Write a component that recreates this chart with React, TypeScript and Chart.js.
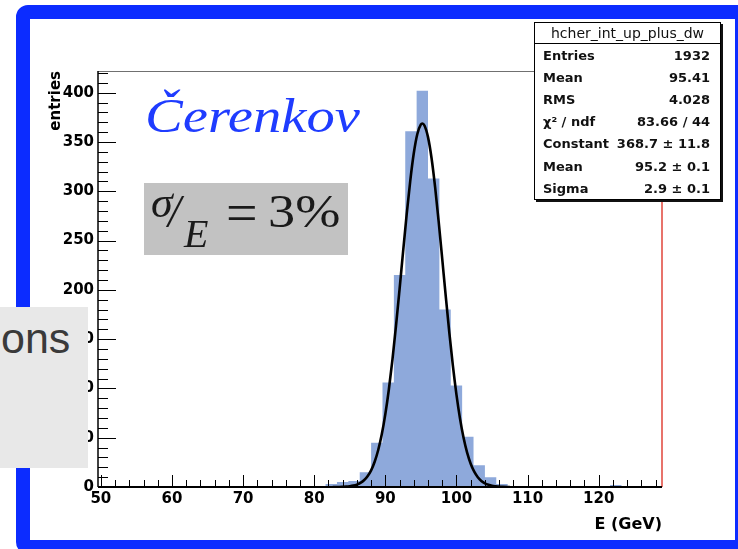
import { useEffect, useRef } from "react";
import { Chart, registerables } from "chart.js";

Chart.register(...registerables);

// ---- data ----
const binStart = 49.6;
const binWidth = 1.6;
const binCounts = [
  0, 0, 0, 0, 0, 0, 0, 0, 0, 0,
  0, 0, 0, 0, 0, 0, 0, 0, 0, 1,
  3, 5, 6, 15, 45, 106, 215, 361, 402, 313,
  180, 103, 51, 22, 10, 3, 1, 0, 1, 1,
  0, 1, 0, 1, 0, 2, 1, 0, 0, 0,
];

const fitE = [
  82.6, 83.5, 84, 84.5, 85, 85.5, 86, 86.5, 87, 87.5, 88, 88.5, 89, 89.5, 90, 90.5,
  91, 91.5, 92, 92.5, 93, 93.5, 94, 94.5, 95, 95.2, 95.5, 96, 96.5, 97, 97.5, 98,
  98.5, 99, 99.5, 100, 100.5, 101, 101.5, 102, 102.5, 103, 103.5, 104, 104.5, 105,
  105.5, 106, 106.5, 107.5,
];
const fitCounts = [
  0, 0.05, 0.2, 0.4, 0.8, 1.4, 2.4, 4.1, 6.8, 10.9, 16.9, 25.6, 37.5, 53.4, 73.9, 99.2,
  129.2, 163.4, 200.6, 239.0, 276.5, 310.4, 338.5, 358.1, 367.8, 368.7, 366.7, 354.9, 333.5, 304.1, 269.2, 231.4,
  193.0, 156.3, 122.8, 93.7, 69.4, 49.9, 34.8, 23.6, 15.5, 9.9, 6.1, 3.7, 2.2, 1.2,
  0.7, 0.4, 0.1, 0,
];

const xTickValues = [50, 60, 70, 80, 90, 100, 110, 120];
const yTickValues = [0, 50, 100, 150, 200, 250, 300, 350, 400];
const xMin = 49.6;
const xMax = 128.9;
const yMin = 0;
const yMax = 422;
const xTitle = "E (GeV)";
const yTitle = "entries";

const statsTitle = "hcher_int_up_plus_dw";
const statsLabels = ["Entries", "Mean", "RMS", "χ² / ndf", "Constant", "Mean", "Sigma"];
const statsValues = ["1932", "95.41", "4.028", "83.66 / 44", "368.7 ± 11.8", "95.2 ± 0.1", "2.9 ± 0.1"];

const labelFont = { family: "DejaVu Sans", weight: "bold" as const, size: 15 };

const rootAxesPlugin = {
  id: "rootAxes",
  afterDatasetsDraw(chart: any) {
    const { ctx, chartArea: a, scales } = chart;
    const x = scales.x;
    const y = scales.y;
    ctx.save();
    ctx.strokeStyle = "#000";
    ctx.lineWidth = 1;
    for (let v = 50; v <= 128; v += 2) {
      const px = Math.round(x.getPixelForValue(v)) + 0.5;
      const len = v % 10 === 0 ? 12 : 7;
      ctx.beginPath();
      ctx.moveTo(px, a.bottom);
      ctx.lineTo(px, a.bottom - len);
      ctx.stroke();
    }
    for (let v = 0; v <= 420; v += 10) {
      const py = Math.round(y.getPixelForValue(v)) + 0.5;
      const len = v % 50 === 0 ? 18 : 10;
      ctx.beginPath();
      ctx.moveTo(a.left, py);
      ctx.lineTo(a.left + len, py);
      ctx.stroke();
    }
    ctx.strokeStyle = "#707070";
    ctx.lineWidth = 1;
    ctx.beginPath();
    ctx.moveTo(a.left, a.top + 0.5);
    ctx.lineTo(a.right, a.top + 0.5);
    ctx.stroke();
    ctx.strokeStyle = "#e0453a";
    ctx.lineWidth = 1.5;
    ctx.beginPath();
    ctx.moveTo(a.right, a.top);
    ctx.lineTo(a.right, a.bottom);
    ctx.stroke();
    ctx.strokeStyle = "#000";
    ctx.lineWidth = 1.5;
    ctx.beginPath();
    ctx.moveTo(a.left, a.top);
    ctx.lineTo(a.left, a.bottom);
    ctx.stroke();
    ctx.lineWidth = 2;
    ctx.beginPath();
    ctx.moveTo(a.left, a.bottom);
    ctx.lineTo(a.right, a.bottom);
    ctx.stroke();
    ctx.restore();
  },
};

function HistChart() {
  const ref = useRef<HTMLCanvasElement | null>(null);
  useEffect(() => {
    if (!ref.current) return;
    const histPoints = binCounts.map((c, k) => ({ x: binStart + k * binWidth, y: c }));
    histPoints.push({ x: binStart + binCounts.length * binWidth, y: binCounts[binCounts.length - 1] });
    const fitPoints = fitE.map((e, i) => ({ x: e, y: fitCounts[i] }));

    const chart = new Chart(ref.current, {
      type: "line",
      data: {
        datasets: [
          {
            data: fitPoints,
            borderColor: "#000",
            borderWidth: 2.6,
            pointRadius: 0,
            fill: false,
            cubicInterpolationMode: "monotone",
            order: 0,
          },
          {
            data: histPoints,
            stepped: "before",
            fill: "origin",
            backgroundColor: "rgb(142,169,219)",
            borderColor: "rgba(0,0,0,0)",
            borderWidth: 0,
            pointRadius: 0,
            order: 1,
          },
        ],
      },
      options: {
        animation: false,
        responsive: false,
        devicePixelRatio: 1,
        layout: { padding: { left: 0, right: 76, top: 71, bottom: 0 } },
        plugins: { legend: { display: false }, tooltip: { enabled: false } },
        scales: {
          x: {
            type: "linear",
            position: "bottom",
            min: xMin,
            max: xMax,
            grid: { display: false, drawTicks: false },
            border: { display: false },
            afterBuildTicks: (s: any) => {
              s.ticks = xTickValues.map((v) => ({ value: v }));
            },
            afterFit: (s: any) => {
              s.height = 62;
            },
            ticks: { autoSkip: false, maxRotation: 0, minRotation: 0, padding: 3, color: "#000", font: labelFont },
            title: {
              display: true,
              text: xTitle,
              align: "end",
              color: "#000",
              font: { family: "DejaVu Sans", weight: "bold", size: 16 },
              padding: { top: 0, bottom: 15 },
            },
          },
          y: {
            type: "linear",
            position: "left",
            min: yMin,
            max: yMax,
            grid: { display: false, drawTicks: false },
            border: { display: false },
            afterBuildTicks: (s: any) => {
              s.ticks = yTickValues.map((v) => ({ value: v }));
            },
            afterFit: (s: any) => {
              s.width = 98;
            },
            ticks: { autoSkip: false, padding: 4, color: "#000", font: labelFont },
            title: {
              display: true,
              text: yTitle,
              align: "end",
              color: "#000",
              font: { family: "DejaVu Sans", weight: "bold", size: 15 },
              padding: { top: 47, bottom: 0 },
            },
          },
        },
      },
      plugins: [rootAxesPlugin],
    } as any);
    return () => chart.destroy();
  }, []);
  return (
    <canvas
      ref={ref}
      width={738}
      height={549}
      style={{ position: "absolute", left: 0, top: 0, width: 738, height: 549, zIndex: 2 }}
    />
  );
}

export default function App() {
  const serif = "'Liberation Serif', 'DejaVu Serif', serif";
  return (
    <div
      style={{
        position: "absolute",
        left: 0,
        top: 0,
        width: 738,
        height: 549,
        overflow: "hidden",
        background: "#fff",
      }}
    >
      <div
        style={{
          position: "absolute",
          left: 16,
          top: 5,
          width: 733,
          height: 549,
          boxSizing: "border-box",
          border: "14px solid rgb(12,44,255)",
          borderRadius: 12,
          background: "#fff",
          zIndex: 1,
        }}
      />
      <HistChart />

      <div
        style={{
          position: "absolute",
          left: 534,
          top: 22,
          width: 187,
          height: 178,
          boxSizing: "border-box",
          border: "1px solid #000",
          background: "#fff",
          boxShadow: "2px 2px 0 #111",
          zIndex: 3,
          fontFamily: "'DejaVu Sans', sans-serif",
          color: "#111",
        }}
      >
        <div
          style={{
            height: 20,
            borderBottom: "1px solid #000",
            textAlign: "center",
            fontSize: 14,
            lineHeight: "20px",
            whiteSpace: "nowrap",
          }}
        >
          {statsTitle}
        </div>
        {statsLabels.map((lab, i) => (
          <div
            key={i}
            style={{
              height: 22.2,
              display: "flex",
              justifyContent: "space-between",
              alignItems: "center",
              padding: "0 10px 0 8px",
              fontWeight: "bold",
              fontSize: 13,
              whiteSpace: "nowrap",
            }}
          >
            <span>{lab}</span>
            <span>{statsValues[i]}</span>
          </div>
        ))}
      </div>

      <div
        style={{
          position: "absolute",
          left: 145,
          top: 92,
          fontFamily: serif,
          fontStyle: "italic",
          fontSize: 48,
          lineHeight: 1,
          color: "#1f3cff",
          transform: "scaleX(1.18)",
          transformOrigin: "left top",
          whiteSpace: "nowrap",
          zIndex: 3,
        }}
      >
        Čerenkov
      </div>

      <div
        style={{
          position: "absolute",
          left: 144,
          top: 183,
          width: 204,
          height: 72,
          background: "#c2c2c2",
          zIndex: 3,
          color: "#1a1a1a",
        }}
      >
        <span style={{ position: "absolute", left: 7, top: -2, fontFamily: serif, fontStyle: "italic", fontSize: 44, lineHeight: 1 }}>σ</span>
        <span style={{ position: "absolute", left: 24, top: 6, fontFamily: serif, fontStyle: "italic", fontSize: 46, lineHeight: 1 }}>/</span>
        <span style={{ position: "absolute", left: 40, top: 31, fontFamily: serif, fontStyle: "italic", fontSize: 40, lineHeight: 1 }}>E</span>
        <span style={{ position: "absolute", left: 82, top: 2, fontFamily: serif, fontSize: 56, lineHeight: 1 }}>=</span>
        <span
          style={{
            position: "absolute",
            left: 124,
            top: 6,
            fontFamily: serif,
            fontSize: 46,
            lineHeight: 1,
            transform: "scaleX(1.18)",
            transformOrigin: "left top",
            whiteSpace: "nowrap",
          }}
        >
          3%
        </span>
      </div>

      <div
        style={{
          position: "absolute",
          left: 0,
          top: 307,
          width: 88,
          height: 161,
          background: "#e8e8e8",
          zIndex: 4,
        }}
      >
        <span
          style={{
            position: "absolute",
            left: 1,
            top: 10,
            fontFamily: "'Liberation Sans', Arial, sans-serif",
            fontSize: 43,
            lineHeight: 1,
            color: "#3a3a3a",
            whiteSpace: "nowrap",
          }}
        >
          ons
        </span>
      </div>
    </div>
  );
}
